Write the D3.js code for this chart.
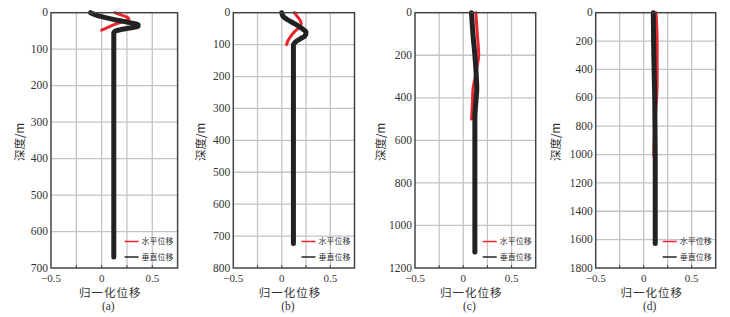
<!DOCTYPE html>
<html>
<head>
<meta charset="utf-8">
<script src="https://cdn.jsdelivr.net/npm/d3@7"></script>
<style>
  html, body { margin: 0; padding: 0; background: #fff; }
  #chart { width: 730px; height: 317px; }
</style>
</head>
<body>
<div id="chart"></div>
<script>
// Four depth profiles of normalized displacement, panels (a)-(d).
var panelNames = ['(a)', '(b)', '(c)', '(d)'];
var depthMax = [700, 800, 1200, 1800];
var depthStep = [100, 100, 200, 200];
var xTickLabels = [-0.5, 0, 0.5];
var xGrid = [-0.25, 0, 0.25, 0.5];
var legendNames = ['水平位移', '垂直位移'];

// vertical displacement (black): [depth m, value]
var vertA = [[0, -0.11], [8, -0.04], [15, 0.06], [22, 0.18], [28, 0.29], [33, 0.36], [37, 0.36], [42, 0.28], [47, 0.18], [51, 0.13], [56, 0.12], [670, 0.12]];
var vertB = [[0, 0.0], [10, 0.01], [22, 0.06], [36, 0.14], [50, 0.21], [62, 0.25], [72, 0.24], [82, 0.19], [92, 0.14], [102, 0.12], [723, 0.12]];
var vertC = [[0, 0.085], [100, 0.10], [200, 0.12], [300, 0.135], [360, 0.14], [420, 0.13], [500, 0.12], [600, 0.12], [1125, 0.12]];
var vertD = [[0, 0.10], [300, 0.105], [600, 0.115], [1000, 0.12], [1627, 0.12]];

// horizontal displacement (red): [depth m, value]
var horzA = [[0, 0.13], [6, 0.19], [12, 0.25], [17, 0.27], [24, 0.21], [32, 0.13], [40, 0.06], [48, 0.0]];
var horzB = [[0, 0.13], [12, 0.16], [24, 0.19], [34, 0.20], [46, 0.18], [60, 0.13], [75, 0.09], [90, 0.06], [100, 0.05]];
var horzC = [[0, 0.13], [100, 0.145], [200, 0.16], [260, 0.14], [310, 0.12], [360, 0.10], [420, 0.095], [500, 0.085]];
var horzD = [[0, 0.128], [200, 0.14], [500, 0.14], [700, 0.125], [1000, 0.105], [1010, 0.105]];

var vertSeries = [vertA, vertB, vertC, vertD];
var horzSeries = [horzA, horzB, horzC, horzD];

var boxes = [
    { left: 51, right: 177.6 },
    { left: 233.3, right: 354.5 },
    { left: 415, right: 535.7 },
    { left: 595.7, right: 715.7 }
];
var yLabelX = [20, 201, 381, 556];

(function () {
    var W = 730, H = 317;
    var top = 12.7, bottom = 268;
    var serif = '"Liberation Serif", "DejaVu Serif", serif';
    var cjk = '"Noto Sans CJK SC", sans-serif';
    var red = '#e8262d', black = '#222', gridC = '#c4c4c4', frameC = '#444';

    var svg = d3.select('#chart').append('svg')
        .attr('width', W).attr('height', H);

    boxes.forEach(function (b, i) {
        var g = svg.append('g');
        var x = d3.scaleLinear().domain([-0.5, 0.75]).range([b.left, b.right]);
        var y = d3.scaleLinear().domain([0, depthMax[i]]).range([top, bottom]);
        var yTicks = d3.range(0, depthMax[i] + 1, depthStep[i]);

        // grid
        g.selectAll('line.gx').data(xGrid).enter().append('line')
            .attr('x1', function (d) { return x(d); }).attr('x2', function (d) { return x(d); })
            .attr('y1', top).attr('y2', bottom)
            .attr('stroke', gridC).attr('stroke-width', 1.3);
        g.selectAll('line.gy').data(yTicks.slice(1, -1)).enter().append('line')
            .attr('x1', b.left).attr('x2', b.right)
            .attr('y1', function (d) { return y(d); }).attr('y2', function (d) { return y(d); })
            .attr('stroke', gridC).attr('stroke-width', 1.3);

        // traces: red first, black over it
        var line = d3.line()
            .x(function (d) { return x(d[1]); })
            .y(function (d) { return y(d[0]); })
            .curve(d3.curveMonotoneY);
        g.append('path').datum(horzSeries[i]).attr('d', line)
            .attr('fill', 'none').attr('stroke', red).attr('stroke-width', 3)
            .attr('stroke-linecap', 'round');
        g.append('path').datum(vertSeries[i]).attr('d', line)
            .attr('fill', 'none').attr('stroke', black).attr('stroke-width', 5)
            .attr('stroke-linecap', 'round');

        // frame
        g.append('rect')
            .attr('x', b.left).attr('y', top)
            .attr('width', b.right - b.left).attr('height', bottom - top)
            .attr('fill', 'none').attr('stroke', frameC).attr('stroke-width', 1.5);

        // inner tick marks
        xGrid.forEach(function (v) {
            g.append('line').attr('x1', x(v)).attr('x2', x(v))
                .attr('y1', bottom).attr('y2', bottom - 3)
                .attr('stroke', frameC).attr('stroke-width', 1);
        });

        // y tick labels
        g.selectAll('text.yt').data(yTicks).enter().append('text')
            .attr('x', b.left - 3).attr('y', function (d) { return y(d); })
            .attr('dy', '0.32em').attr('text-anchor', 'end')
            .attr('font-family', serif).attr('font-size', 11.5).attr('fill', '#333')
            .text(function (d) { return d; });

        // x tick labels
        g.selectAll('text.xt').data(xTickLabels).enter().append('text')
            .attr('x', function (d) { return x(d); }).attr('y', bottom + 13.5)
            .attr('text-anchor', 'middle')
            .attr('font-family', serif).attr('font-size', 11).attr('fill', '#333')
            .text(function (d) { return d < 0 ? '\u2212' + Math.abs(d) : d; });

        // axis titles
        g.append('text')
            .attr('x', (b.left + b.right) / 2 - 4).attr('y', bottom + 29)
            .attr('text-anchor', 'middle')
            .attr('font-family', cjk).attr('font-size', 11.5).attr('fill', '#333')
            .attr('letter-spacing', 1)
            .text('归一化位移');
        g.append('text')
            .attr('x', (b.left + b.right) / 2 - 6).attr('y', bottom + 41.5)
            .attr('text-anchor', 'middle')
            .attr('font-family', serif).attr('font-size', 11.5).attr('fill', '#333')
            .text(panelNames[i]);
        g.append('text')
            .attr('transform', 'translate(' + yLabelX[i] + ',' + 142 + ') rotate(-90)')
            .attr('text-anchor', 'middle').attr('dy', '0.35em')
            .attr('font-family', cjk).attr('font-size', 11.5).attr('fill', '#333')
            .text('深度/m');

        // legend
        var lx = b.right - 53;
        [red, black].forEach(function (c, k) {
            var ly = 241.5 + k * 15.5;
            g.append('line').attr('x1', lx).attr('x2', lx + 14)
                .attr('y1', ly).attr('y2', ly)
                .attr('stroke', c).attr('stroke-width', 1.5);
            g.append('text').attr('x', lx + 17).attr('y', ly).attr('dy', '0.35em')
                .attr('font-family', cjk).attr('font-size', 8).attr('fill', '#333')
                .text(legendNames[k]);
        });
    });
})();
</script>
</body>
</html>
